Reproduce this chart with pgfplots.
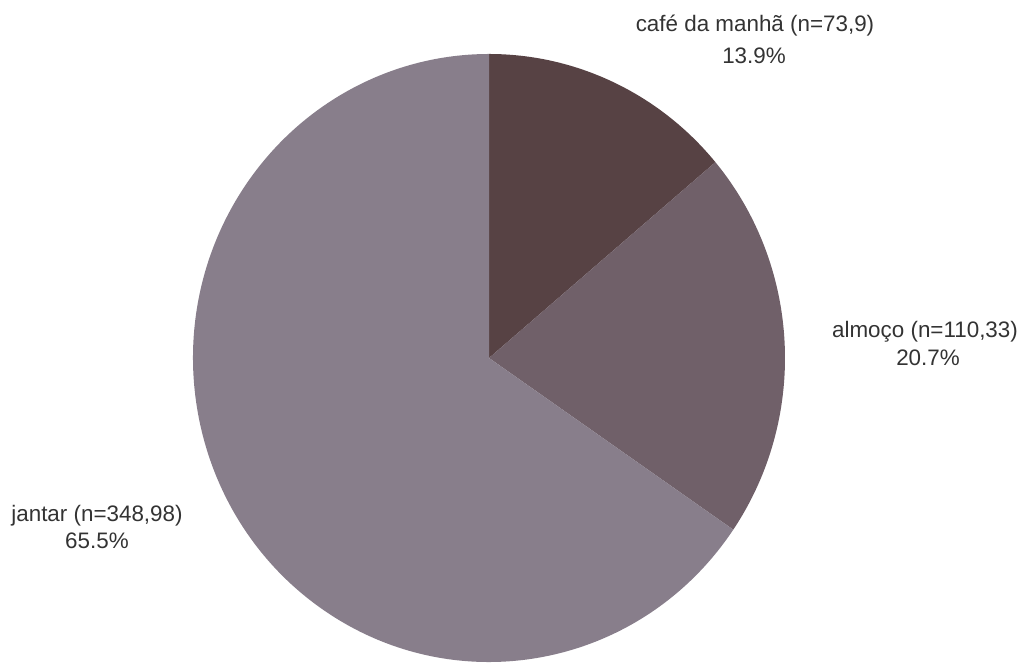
\documentclass[border=0pt]{standalone}
\usepackage{pgfplots}
\pgfplotsset{compat=1.18}
\usepackage{fontspec}
\setmainfont{Liberation Sans}
\definecolor{cafe}{RGB}{87,66,68}
\definecolor{almoco}{RGB}{112,96,105}
\definecolor{jantar}{RGB}{136,126,139}
\definecolor{txt}{RGB}{51,51,51}
\begin{document}
\begin{tikzpicture}
\pgfmathsetmacro{\vA}{73.9}
\pgfmathsetmacro{\vB}{110.33}
\pgfmathsetmacro{\vC}{348.98}
\pgfmathsetmacro{\tot}{\vA+\vB+\vC}
\pgfmathsetmacro{\aZ}{90}
\pgfmathsetmacro{\aA}{90-360*(\vA/\tot)}
\pgfmathsetmacro{\aB}{\aA-360*(\vB/\tot)}
\pgfmathsetmacro{\aC}{90-360}
\begin{axis}[xmin=0,xmax=1027,ymin=0,ymax=666,
  width=770.25pt,height=499.5pt,scale only axis,hide axis,clip=false]
\path (axis cs:0,0) rectangle (axis cs:1027,666);
\fill[cafe,overlay] (axis cs:489,308) -- ++(\aZ:222pt and 228pt)
  arc[start angle=\aZ,end angle=\aA,x radius=222pt,y radius=228pt] -- cycle;
\fill[almoco,overlay] (axis cs:489,308) -- ++(\aA:222pt and 228pt)
  arc[start angle=\aA,end angle=\aB,x radius=222pt,y radius=228pt] -- cycle;
\fill[jantar,overlay] (axis cs:489,308) -- ++(\aB:222pt and 228pt)
  arc[start angle=\aB,end angle=\aC,x radius=222pt,y radius=228pt] -- cycle;
\tikzset{lab/.style={anchor=base,text=txt,inner sep=0pt,overlay,font=\fontsize{16.8}{20}\selectfont}}
\node[lab] at (axis cs:755,634) {café da manhã (n=73,9)};
\node[lab] at (axis cs:754,602) {13.9\%};
\node[lab] at (axis cs:925,328) {almoço (n=110,33)};
\node[lab] at (axis cs:928,300) {20.7\%};
\node[lab] at (axis cs:97,144) {jantar (n=348,98)};
\node[lab] at (axis cs:97,117) {65.5\%};
\end{axis}
\end{tikzpicture}
\end{document}
